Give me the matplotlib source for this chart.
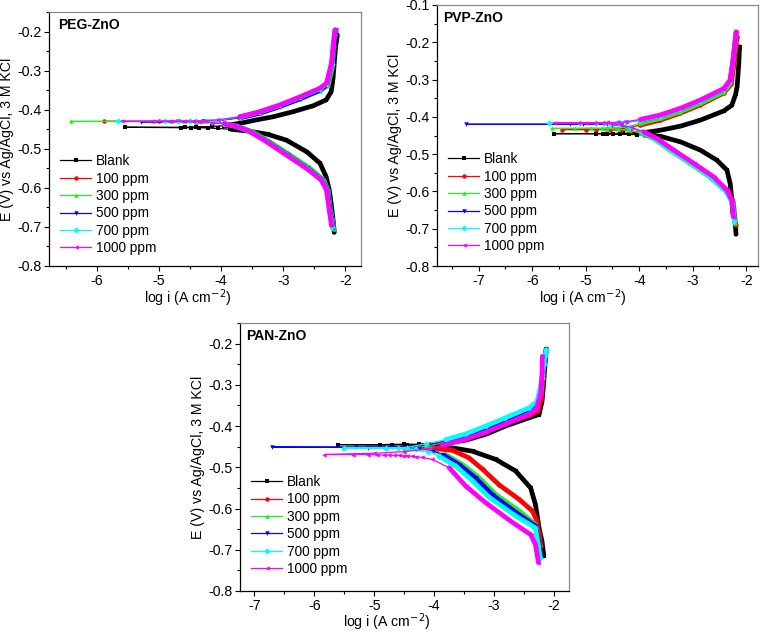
import numpy as np
import matplotlib
matplotlib.use("Agg")
import matplotlib.pyplot as plt
from matplotlib.ticker import MultipleLocator

plt.rcParams['font.family'] = ['Liberation Sans', 'DejaVu Sans']
plt.rcParams['axes.unicode_minus'] = False

labels = ['Blank', '100 ppm', '300 ppm', '500 ppm', '700 ppm', '1000 ppm']
colors = ['#000000', '#ff0000', '#22ee22', '#0000ff', '#00ffff', '#ff00ff']
markers = ['s', 'o', '^', 'v', 'D', '<']

# ---------------- PEG-ZnO ----------------
peg_blank_logi = [-2.18, -2.20, -2.23, -2.26, -2.31, -2.41, -2.62, -2.95, -3.25, -3.55, -3.85, -4.05, -4.21, -4.35, -4.49, -4.65, -5.55, -4.58, -4.40, -4.15, -3.95, -3.70, -3.43, -3.16, -2.84, -2.52, -2.31, -2.23, -2.20, -2.18, -2.16, -2.13]
peg_blank_E = [-0.714, -0.680, -0.640, -0.606, -0.572, -0.537, -0.508, -0.478, -0.463, -0.455, -0.450, -0.448, -0.447, -0.446, -0.446, -0.446, -0.445, -0.445, -0.444, -0.443, -0.441, -0.435, -0.426, -0.418, -0.405, -0.390, -0.375, -0.354, -0.320, -0.280, -0.240, -0.209]
peg_100_logi = [-2.20, -2.22, -2.25, -2.29, -2.37, -2.60, -2.92, -3.25, -3.53, -3.75, -3.95, -4.15, -4.40, -4.70, -5.89, -5.00, -4.50, -4.25, -4.05, -3.70, -3.38, -3.06, -2.73, -2.41, -2.30, -2.22, -2.19, -2.17, -2.16]
peg_100_E = [-0.700, -0.680, -0.657, -0.606, -0.580, -0.550, -0.516, -0.482, -0.456, -0.443, -0.436, -0.432, -0.431, -0.430, -0.430, -0.430, -0.429, -0.428, -0.427, -0.420, -0.408, -0.391, -0.371, -0.349, -0.335, -0.285, -0.240, -0.210, -0.196]
peg_300_logi = [-2.19, -2.21, -2.24, -2.28, -2.35, -2.57, -2.89, -3.22, -3.50, -3.73, -3.95, -4.15, -4.40, -4.80, -6.42, -5.10, -4.60, -4.30, -4.05, -3.70, -3.38, -3.06, -2.73, -2.41, -2.28, -2.21, -2.19, -2.17, -2.16]
peg_300_E = [-0.705, -0.680, -0.657, -0.606, -0.580, -0.550, -0.516, -0.482, -0.456, -0.443, -0.436, -0.432, -0.431, -0.430, -0.430, -0.430, -0.429, -0.428, -0.427, -0.420, -0.408, -0.391, -0.372, -0.352, -0.338, -0.290, -0.240, -0.210, -0.196]
peg_500_logi = [-2.20, -2.22, -2.25, -2.29, -2.37, -2.61, -2.93, -3.25, -3.53, -3.75, -3.95, -4.15, -4.40, -5.29, -4.70, -4.30, -4.05, -3.70, -3.38, -3.06, -2.73, -2.41, -2.30, -2.22, -2.19, -2.17, -2.16]
peg_500_E = [-0.702, -0.680, -0.657, -0.606, -0.580, -0.550, -0.516, -0.482, -0.456, -0.443, -0.436, -0.432, -0.431, -0.431, -0.430, -0.429, -0.428, -0.421, -0.409, -0.392, -0.372, -0.350, -0.336, -0.285, -0.240, -0.210, -0.196]
peg_700_logi = [-2.21, -2.23, -2.26, -2.30, -2.38, -2.62, -2.94, -3.26, -3.54, -3.75, -3.95, -4.15, -4.40, -4.70, -5.66, -4.90, -4.50, -4.25, -4.05, -3.70, -3.38, -3.06, -2.73, -2.41, -2.30, -2.22, -2.20, -2.18, -2.17]
peg_700_E = [-0.700, -0.680, -0.657, -0.606, -0.580, -0.550, -0.516, -0.482, -0.456, -0.443, -0.436, -0.431, -0.430, -0.429, -0.429, -0.429, -0.428, -0.428, -0.427, -0.419, -0.406, -0.389, -0.368, -0.346, -0.333, -0.282, -0.240, -0.210, -0.196]
peg_1000_logi = [-2.225, -2.24, -2.26, -2.305, -2.39, -2.63, -2.95, -3.27, -3.54, -3.75, -3.95, -4.15, -4.35, -4.60, -5.10, -5.60, -4.80, -4.45, -4.25, -4.05, -3.70, -3.38, -3.06, -2.73, -2.41, -2.305, -2.225, -2.20, -2.18, -2.17]
peg_1000_E = [-0.696, -0.680, -0.657, -0.606, -0.580, -0.550, -0.516, -0.482, -0.456, -0.443, -0.436, -0.433, -0.431, -0.430, -0.430, -0.430, -0.429, -0.429, -0.428, -0.426, -0.418, -0.405, -0.388, -0.367, -0.345, -0.332, -0.281, -0.240, -0.210, -0.196]

# ---------------- PVP-ZnO ----------------
pvp_blank_logi = [-2.19, -2.21, -2.25, -2.27, -2.30, -2.36, -2.55, -2.86, -3.23, -3.61, -3.90, -4.05, -4.20, -4.36, -4.49, -4.67, -4.80, -5.60, -4.60, -4.30, -4.10, -3.90, -3.61, -3.23, -2.86, -2.42, -2.27, -2.20, -2.17, -2.14, -2.125]
pvp_blank_E = [-0.715, -0.680, -0.659, -0.620, -0.579, -0.543, -0.516, -0.489, -0.467, -0.452, -0.449, -0.448, -0.447, -0.447, -0.446, -0.446, -0.445, -0.445, -0.445, -0.444, -0.443, -0.442, -0.436, -0.425, -0.409, -0.384, -0.369, -0.340, -0.319, -0.260, -0.212]
pvp_100_logi = [-2.20, -2.24, -2.34, -2.62, -2.99, -3.37, -3.68, -3.93, -4.15, -4.35, -4.55, -4.80, -5.44, -5.00, -4.60, -4.25, -3.98, -3.61, -3.23, -2.86, -2.42, -2.28, -2.22, -2.19, -2.17]
pvp_100_E = [-0.690, -0.630, -0.600, -0.561, -0.525, -0.489, -0.458, -0.443, -0.438, -0.436, -0.435, -0.434, -0.434, -0.434, -0.433, -0.431, -0.422, -0.409, -0.390, -0.368, -0.336, -0.312, -0.250, -0.210, -0.185]
pvp_300_logi = [-2.21, -2.25, -2.38, -2.68, -3.05, -3.43, -3.73, -3.97, -4.20, -4.40, -4.60, -4.90, -5.63, -5.20, -4.70, -4.25, -3.98, -3.61, -3.23, -2.86, -2.42, -2.30, -2.24, -2.21, -2.19]
pvp_300_E = [-0.685, -0.630, -0.600, -0.561, -0.525, -0.489, -0.458, -0.443, -0.436, -0.433, -0.432, -0.431, -0.431, -0.431, -0.430, -0.428, -0.417, -0.404, -0.386, -0.364, -0.333, -0.310, -0.245, -0.205, -0.178]
pvp_500_logi = [-2.22, -2.26, -2.37, -2.64, -3.01, -3.39, -3.70, -3.94, -4.16, -4.35, -4.50, -4.80, -5.06, -7.23, -5.30, -4.60, -4.40, -4.25, -3.98, -3.61, -3.23, -2.86, -2.42, -2.30, -2.24, -2.21, -2.19]
pvp_500_E = [-0.675, -0.627, -0.598, -0.561, -0.525, -0.489, -0.458, -0.441, -0.429, -0.423, -0.421, -0.420, -0.420, -0.420, -0.420, -0.419, -0.418, -0.415, -0.409, -0.397, -0.379, -0.357, -0.326, -0.303, -0.241, -0.200, -0.174]
pvp_700_logi = [-2.22, -2.26, -2.38, -2.66, -3.03, -3.41, -3.71, -3.95, -4.17, -4.36, -4.55, -4.80, -5.69, -5.10, -4.65, -4.40, -4.25, -3.98, -3.61, -3.23, -2.86, -2.42, -2.30, -2.24, -2.21, -2.19]
pvp_700_E = [-0.680, -0.630, -0.600, -0.561, -0.525, -0.489, -0.458, -0.440, -0.428, -0.421, -0.418, -0.417, -0.416, -0.416, -0.416, -0.415, -0.414, -0.409, -0.397, -0.379, -0.357, -0.326, -0.303, -0.240, -0.200, -0.172]
pvp_1000_logi = [-2.24, -2.27, -2.36, -2.61, -2.98, -3.36, -3.67, -3.92, -4.15, -4.35, -4.50, -4.70, -4.85, -5.15, -5.60, -5.00, -4.60, -4.40, -4.25, -3.98, -3.61, -3.23, -2.86, -2.42, -2.30, -2.24, -2.21, -2.19]
pvp_1000_E = [-0.668, -0.624, -0.597, -0.561, -0.525, -0.489, -0.458, -0.440, -0.428, -0.421, -0.418, -0.417, -0.417, -0.416, -0.416, -0.416, -0.415, -0.415, -0.413, -0.407, -0.395, -0.377, -0.355, -0.324, -0.301, -0.239, -0.200, -0.172]

# ---------------- PAN-ZnO ----------------
pan_blank_logi = [-2.17, -2.20, -2.25, -2.31, -2.39, -2.64, -2.97, -3.36, -3.69, -3.95, -4.20, -4.45, -4.70, -5.60, -4.90, -4.50, -4.25, -4.05, -3.75, -3.47, -3.14, -2.81, -2.42, -2.25, -2.20, -2.17, -2.15, -2.13]
pan_blank_E = [-0.715, -0.680, -0.647, -0.590, -0.550, -0.509, -0.481, -0.461, -0.453, -0.449, -0.447, -0.446, -0.446, -0.445, -0.445, -0.444, -0.444, -0.443, -0.440, -0.434, -0.420, -0.400, -0.380, -0.372, -0.340, -0.290, -0.250, -0.215]
pan_100_logi = [-2.22, -2.25, -2.30, -2.36, -2.58, -2.92, -3.19, -3.42, -3.69, -3.95, -4.20, -4.50, -5.50, -4.80, -4.40, -4.10, -3.75, -3.47, -3.14, -2.81, -2.42, -2.27, -2.21, -2.18, -2.16, -2.14]
pan_100_E = [-0.690, -0.660, -0.625, -0.606, -0.578, -0.542, -0.505, -0.477, -0.459, -0.455, -0.453, -0.452, -0.452, -0.452, -0.451, -0.448, -0.440, -0.430, -0.414, -0.394, -0.374, -0.364, -0.330, -0.285, -0.245, -0.218]
pan_300_logi = [-2.22, -2.26, -2.31, -2.42, -2.58, -2.97, -3.25, -3.53, -3.81, -4.00, -4.20, -4.50, -5.52, -4.80, -4.40, -4.10, -3.81, -3.47, -3.14, -2.81, -2.42, -2.28, -2.21, -2.18, -2.16, -2.14]
pan_300_E = [-0.715, -0.680, -0.639, -0.625, -0.606, -0.566, -0.525, -0.493, -0.469, -0.460, -0.455, -0.454, -0.453, -0.453, -0.452, -0.448, -0.438, -0.425, -0.408, -0.388, -0.362, -0.350, -0.310, -0.270, -0.240, -0.215]
pan_500_logi = [-2.22, -2.26, -2.31, -2.45, -2.63, -3.02, -3.30, -3.58, -3.85, -4.02, -4.25, -4.60, -5.10, -6.71, -5.30, -4.70, -4.40, -4.12, -3.81, -3.47, -3.14, -2.81, -2.42, -2.28, -2.20, -2.17, -2.15, -2.13]
pan_500_E = [-0.715, -0.680, -0.642, -0.628, -0.610, -0.568, -0.527, -0.494, -0.470, -0.460, -0.455, -0.453, -0.452, -0.451, -0.451, -0.450, -0.450, -0.446, -0.436, -0.422, -0.404, -0.384, -0.359, -0.345, -0.290, -0.255, -0.230, -0.213]
pan_700_logi = [-2.23, -2.26, -2.31, -2.64, -3.08, -3.36, -3.64, -3.92, -4.10, -4.30, -4.60, -5.50, -4.80, -4.45, -4.14, -3.81, -3.47, -3.14, -2.81, -2.42, -2.28, -2.195, -2.17, -2.15, -2.13]
pan_700_E = [-0.720, -0.690, -0.647, -0.618, -0.573, -0.533, -0.497, -0.473, -0.462, -0.456, -0.454, -0.453, -0.453, -0.452, -0.443, -0.433, -0.419, -0.400, -0.380, -0.356, -0.340, -0.283, -0.250, -0.230, -0.215]
pan_1000_logi = [-2.26, -2.31, -2.39, -2.69, -3.14, -3.47, -3.75, -4.03, -4.20, -4.31, -4.37, -4.45, -4.52, -4.58, -4.67, -4.75, -4.83, -4.96, -5.11, -5.36, -5.83, -5.00, -4.50, -4.10, -3.86, -3.47, -3.14, -2.81, -2.42, -2.30, -2.22, -2.20, -2.195]
pan_1000_E = [-0.731, -0.687, -0.663, -0.634, -0.586, -0.546, -0.501, -0.481, -0.476, -0.474, -0.473, -0.472, -0.472, -0.471, -0.471, -0.470, -0.470, -0.470, -0.469, -0.469, -0.469, -0.466, -0.462, -0.455, -0.447, -0.432, -0.415, -0.395, -0.372, -0.360, -0.320, -0.270, -0.231]

panels = [
    dict(title='PEG-ZnO', rect=[49, 12, 361, 266], xlim=(-6.77, -1.75), ylim=(-0.8, -0.15),
         leg=(0.035, 0.44), title_x=0.03, xlab=(0.445, -0.146),
         data=[(peg_blank_logi, peg_blank_E), (peg_100_logi, peg_100_E), (peg_300_logi, peg_300_E),
               (peg_500_logi, peg_500_E), (peg_700_logi, peg_700_E), (peg_1000_logi, peg_1000_E)]),
    dict(title='PVP-ZnO', rect=[437, 5, 758, 266], xlim=(-7.78, -1.78), ylim=(-0.8, -0.1),
         leg=(0.034, 0.436), title_x=0.02, xlab=(0.455, -0.142),
         data=[(pvp_blank_logi, pvp_blank_E), (pvp_100_logi, pvp_100_E), (pvp_300_logi, pvp_300_E),
               (pvp_500_logi, pvp_500_E), (pvp_700_logi, pvp_700_E), (pvp_1000_logi, pvp_1000_E)]),
    dict(title='PAN-ZnO', rect=[240, 323, 569, 591], xlim=(-7.24, -1.75), ylim=(-0.8, -0.15),
         leg=(0.033, 0.433), title_x=0.018, xlab=(0.447, -0.134),
         data=[(pan_blank_logi, pan_blank_E), (pan_100_logi, pan_100_E), (pan_300_logi, pan_300_E),
               (pan_500_logi, pan_500_E), (pan_700_logi, pan_700_E), (pan_1000_logi, pan_1000_E)]),
]

W, H = 760, 633
fig = plt.figure(figsize=(W / 100, H / 100), dpi=100)

for p in panels:
    l, t, r, b = p['rect']
    ax = fig.add_axes([l / W, 1 - b / H, (r - l) / W, (b - t) / H])
    for (lg, e), c, m, lab in zip(p['data'], colors, markers, labels):
        x = np.asarray(lg, dtype=float)
        y = np.asarray(e, dtype=float)
        assert len(x) == len(y), lab
        ax.plot(x, y, color=c, lw=0.9, marker=m, ms=3.2, mew=0, label=lab)
        ax.plot(x, np.where(x > -4.0, y, np.nan), color=c, lw=3.4,
                solid_capstyle='round', solid_joinstyle='round')
    ax.set_xlim(*p['xlim'])
    ax.set_ylim(*p['ylim'])
    ax.xaxis.set_major_locator(MultipleLocator(1))
    ax.xaxis.set_minor_locator(MultipleLocator(0.5))
    ax.yaxis.set_major_locator(MultipleLocator(0.1))
    ax.yaxis.set_minor_locator(MultipleLocator(0.05))
    ax.tick_params(which='both', direction='out', labelsize=10.2, pad=2, width=0.8)
    ax.tick_params(which='major', length=3.5)
    ax.tick_params(which='minor', length=2.5)
    ax.tick_params(top=False, right=False)
    for s in ['top', 'right']:
        ax.spines[s].set_color('#888888')
    for s in ax.spines.values():
        s.set_linewidth(0.9)
    ax.set_xlabel('log i (A cm$^{-2}$)', fontsize=10.2)
    ax.xaxis.set_label_coords(*p['xlab'])
    ax.xaxis.label.set_va('baseline')
    ax.set_ylabel('E (V) vs Ag/AgCl, 3 M KCl', fontsize=10.2, labelpad=2)
    ax.text(p['title_x'], 0.95, p['title'], transform=ax.transAxes, fontsize=10, fontweight='bold',
            va='center', ha='left')
    ax.legend(loc='upper left', bbox_to_anchor=p['leg'], frameon=False, fontsize=9.8,
              handlelength=2.3, handletextpad=0.35, labelspacing=0.25, borderpad=0,
              borderaxespad=0, markerscale=1.0)

fig.savefig('out.png', dpi=100)
